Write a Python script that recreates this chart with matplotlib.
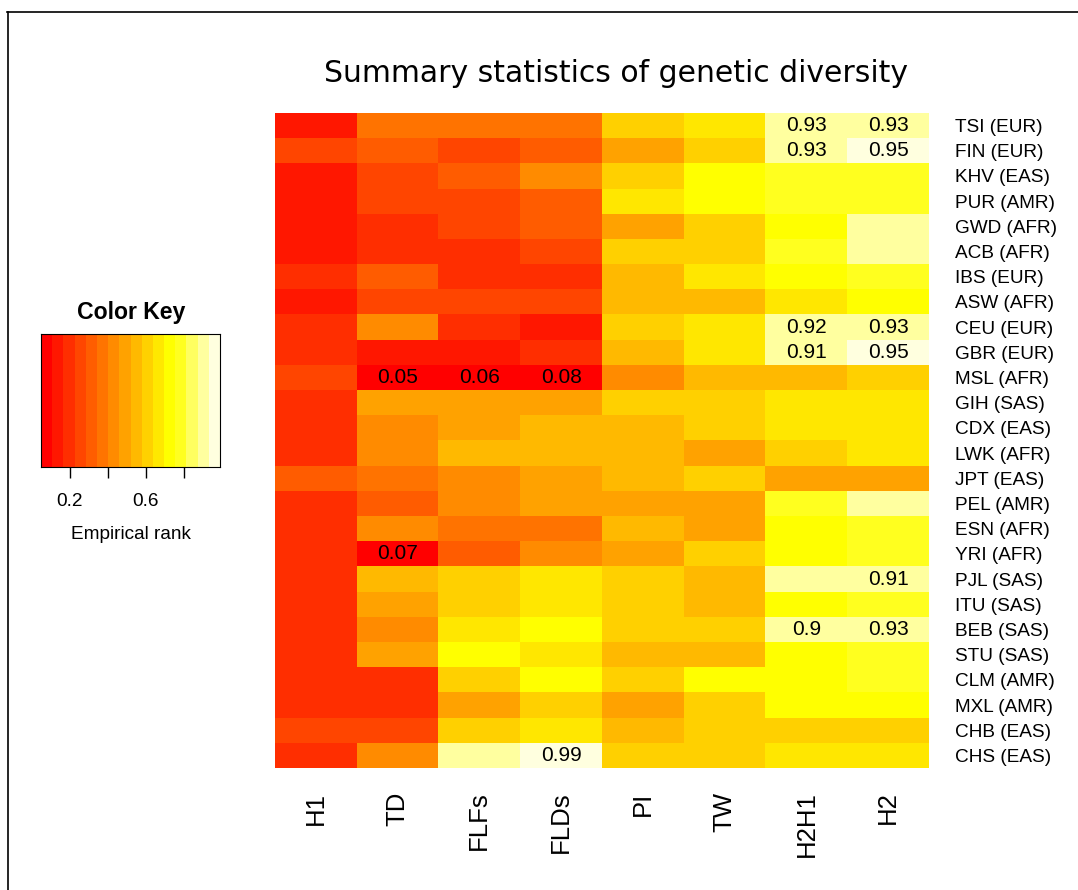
import numpy as np
import matplotlib
matplotlib.use("Agg")
import matplotlib.pyplot as plt
from matplotlib.colors import ListedColormap, BoundaryNorm, hsv_to_rgb
from matplotlib.lines import Line2D

# ---------------- data ----------------
stats = ["H1", "TD", "FLFs", "FLDs", "PI", "TW", "H2H1", "H2"]
populations = ["TSI (EUR)", "FIN (EUR)", "KHV (EAS)", "PUR (AMR)", "GWD (AFR)",
               "ACB (AFR)", "IBS (EUR)", "ASW (AFR)", "CEU (EUR)", "GBR (EUR)",
               "MSL (AFR)", "GIH (SAS)", "CDX (EAS)", "LWK (AFR)", "JPT (EAS)",
               "PEL (AMR)", "ESN (AFR)", "YRI (AFR)", "PJL (SAS)", "ITU (SAS)",
               "BEB (SAS)", "STU (SAS)", "CLM (AMR)", "MXL (AMR)", "CHB (EAS)",
               "CHS (EAS)"]

H1 = [0.14, 0.26, 0.14, 0.14, 0.14, 0.14, 0.20, 0.14, 0.20, 0.20, 0.26, 0.20, 0.20,
      0.20, 0.31, 0.20, 0.20, 0.20, 0.20, 0.20, 0.20, 0.20, 0.20, 0.20, 0.26, 0.20]
TD = [0.37, 0.31, 0.26, 0.26, 0.20, 0.20, 0.31, 0.26, 0.43, 0.14, 0.05, 0.49, 0.43,
      0.43, 0.37, 0.31, 0.43, 0.07, 0.55, 0.49, 0.43, 0.49, 0.20, 0.20, 0.26, 0.43]
FLFs = [0.37, 0.26, 0.31, 0.26, 0.26, 0.20, 0.20, 0.26, 0.20, 0.14, 0.06, 0.49, 0.49,
        0.55, 0.43, 0.43, 0.37, 0.31, 0.61, 0.61, 0.67, 0.73, 0.61, 0.49, 0.61, 0.89]
FLDs = [0.37, 0.31, 0.43, 0.31, 0.31, 0.26, 0.20, 0.26, 0.14, 0.20, 0.08, 0.49, 0.55,
        0.55, 0.49, 0.49, 0.37, 0.43, 0.67, 0.67, 0.73, 0.67, 0.73, 0.61, 0.67, 0.99]
PI = [0.61, 0.49, 0.61, 0.67, 0.49, 0.61, 0.55, 0.55, 0.61, 0.55, 0.43, 0.61, 0.55,
      0.55, 0.55, 0.49, 0.55, 0.49, 0.61, 0.61, 0.61, 0.55, 0.61, 0.49, 0.55, 0.61]
TW = [0.67, 0.61, 0.73, 0.73, 0.61, 0.61, 0.67, 0.55, 0.67, 0.67, 0.55, 0.61, 0.61,
      0.49, 0.61, 0.49, 0.49, 0.61, 0.55, 0.55, 0.61, 0.55, 0.73, 0.61, 0.61, 0.61]
H2H1 = [0.93, 0.93, 0.78, 0.78, 0.73, 0.78, 0.73, 0.67, 0.92, 0.91, 0.55, 0.67, 0.67,
        0.61, 0.49, 0.78, 0.73, 0.73, 0.88, 0.73, 0.90, 0.73, 0.73, 0.73, 0.61, 0.67]
H2 = [0.93, 0.95, 0.78, 0.78, 0.89, 0.89, 0.78, 0.73, 0.93, 0.95, 0.61, 0.67, 0.67,
      0.67, 0.49, 0.89, 0.78, 0.78, 0.91, 0.78, 0.93, 0.78, 0.78, 0.73, 0.61, 0.67]

columns = [H1, TD, FLFs, FLDs, PI, TW, H2H1, H2]
mat = np.array(columns).T  # rows = populations

# ---------------- palette: R heat.colors(16) ----------------
n = 16
j = n // 4
i = n - j
hsv = [(h, 1.0, 1.0) for h in np.linspace(0, 1 / 6, i)]
hsv += [(1 / 6, s, 1.0) for s in np.linspace(1 - 1 / (2 * j), 1 / (2 * j), j)]
colors = [hsv_to_rgb(c) for c in hsv]
cmap = ListedColormap(colors)
breaks = np.linspace(mat.min(), mat.max(), n + 1)
norm = BoundaryNorm(breaks, n, clip=True)

W, H = 1078, 890
fig = plt.figure(figsize=(W / 100, H / 100), dpi=100)
fig.patch.set_facecolor("white")

def fx(px):
    return px / W

def fy(py):
    return 1 - py / H

font = "Liberation Sans"

# ---------------- heatmap ----------------
left, right, top, bottom = 275, 929, 113, 768
ax = fig.add_axes([fx(left), fy(bottom), fx(right - left), (bottom - top) / H])
ax.imshow(mat, aspect="auto", cmap=cmap, norm=norm, interpolation="nearest")
for s in ax.spines.values():
    s.set_visible(False)
ax.set_xticks(range(len(stats)))
ax.set_xticklabels(stats, rotation=90, fontsize=18.5, family=font, va="top")
ax.tick_params(axis="x", length=0, pad=17)
ax.yaxis.tick_right()
ax.set_yticks(range(len(populations)))
ax.set_yticklabels(populations, fontsize=13.7, family=font)
ax.tick_params(axis="y", length=0, pad=19)

for r in range(mat.shape[0]):
    for c in range(mat.shape[1]):
        v = mat[r, c]
        if v < 0.1 or v >= 0.9:
            ax.text(c, r, f"{v:g}", ha="center", va="center", fontsize=15,
                    family=font, color="black")

# ---------------- title ----------------
fig.text(fx(616), fy(74), "Summary statistics of genetic diversity",
         ha="center", va="center", fontsize=21.5, family="DejaVu Sans")

# ---------------- color key ----------------
kl, kr, kt, kb = 41, 220, 334, 467
kax = fig.add_axes([fx(kl), fy(kb), fx(kr - kl), (kb - kt) / H])
centers = (breaks[:-1] + breaks[1:]) / 2
kax.pcolormesh(breaks, [0, 1], centers[np.newaxis, :], cmap=cmap, norm=norm)
kax.set_xlim(breaks[0], breaks[-1])
kax.set_ylim(0, 1)
kax.set_yticks([])
kax.set_xticks([0.2, 0.4, 0.6, 0.8])
kax.set_xticklabels(["0.2", "", "0.6", ""], fontsize=13.7, family=font)
kax.tick_params(axis="x", length=8, width=1, pad=11)
kax.set_xlabel("Empirical rank", fontsize=13.7, family=font, labelpad=11)
for s in kax.spines.values():
    s.set_linewidth(0.8)
fig.text(fx(131), fy(313), "Color Key", ha="center", va="center",
         fontsize=16.6, fontweight="bold", family=font)

# ---------------- border ----------------
fig.add_artist(Line2D([fx(7), 1], [fy(11.5), fy(11.5)], color="black", lw=1.2,
                      transform=fig.transFigure))
fig.add_artist(Line2D([fx(7.5), fx(7.5)], [0, fy(11.5)], color="black", lw=1.2,
                      transform=fig.transFigure))

fig.savefig("out.png", dpi=100, facecolor="white")
